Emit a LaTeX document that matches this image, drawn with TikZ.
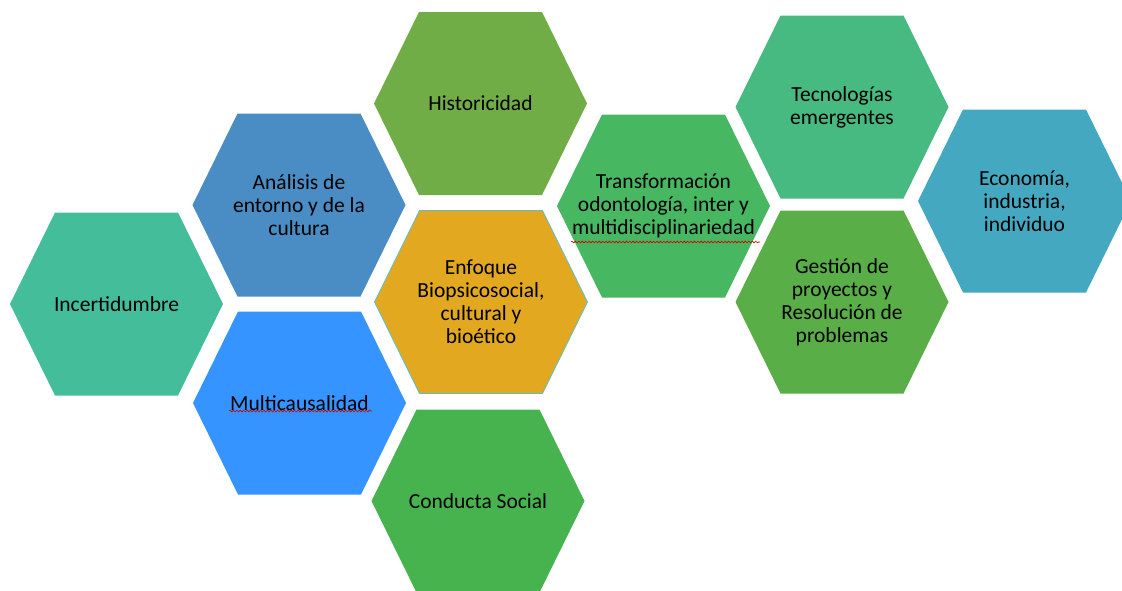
\documentclass[tikz,border=0pt]{standalone}
\usepackage{fontspec}
\setmainfont{Carlito}
\usetikzlibrary{decorations.pathmorphing}

\definecolor{incert}{RGB}{68,189,155}
\definecolor{analisis}{RGB}{73,141,196}
\definecolor{multic}{RGB}{53,148,255}
\definecolor{histor}{RGB}{112,173,71}
\definecolor{enfoque}{RGB}{226,168,32}
\definecolor{enfborder}{RGB}{91,192,205}
\definecolor{conducta}{RGB}{71,179,79}
\definecolor{transf}{RGB}{72,183,98}
\definecolor{tecno}{RGB}{70,186,128}
\definecolor{gestion}{RGB}{90,174,72}
\definecolor{econo}{RGB}{69,168,193}

% one cell of the honeycomb: name, x, y, fill options, text
\newcommand{\hexcell}[5]{%
	\path[#4] (#2,#3) ++(-106.5,0) -- ++(45,-91.5) -- ++(123,0) -- ++(45,91.5) -- ++(-45,91.5) -- ++(-123,0) -- cycle;
	\node[hexlabel] (#1) at (#2,#3) {#5};
}

\begin{document}
\begin{tikzpicture}[x=1pt, y=-1pt,
	hexlabel/.style={align=center, inner sep=0pt, text=black, font=\fontsize{21.5}{23}\selectfont},
	squiggle/.style={red!80!black, line width=0.6pt, decorate, decoration={snake, amplitude=0.9pt, segment length=3.4pt}}]
	\useasboundingbox (0,0) rectangle (1122,590);
	\hexcell{inc}{116.5}{304}{fill=incert}{Incertidumbre}
	\hexcell{ana}{299}{205}{fill=analisis}{Análisis de\\entorno y de la\\cultura}
	\hexcell{mul}{299.5}{403}{fill=multic}{Multicausalidad}
	\hexcell{his}{480.5}{103.5}{fill=histor}{Historicidad}
	\hexcell{enf}{481}{302}{fill=enfoque, draw=enfborder, line width=0.8pt}{Enfoque\\Biopsicosocial,\\cultural y\\bioético}
	\hexcell{con}{478}{501}{fill=conducta}{Conducta Social}
	\hexcell{tra}{663.5}{206}{fill=transf}{Transformación\\odontología, inter y\\multidisciplinariedad}
	\hexcell{tec}{842}{107}{fill=tecno}{Tecnologías\\emergentes}
	\hexcell{ges}{842}{302}{fill=gestion}{Gestión de\\proyectos y\\Resolución de\\problemas}
	\hexcell{eco}{1024.5}{201}{fill=econo}{Economía,\\industria,\\individuo}
	% spell-check marks
	\coordinate (mulsa) at (229,411);
	\coordinate (mulsb) at (372,411);
	\coordinate (trasa) at (571,242);
	\coordinate (trasb) at (760,242);
	\draw[squiggle] (mulsa) -- (mulsb);
	\draw[squiggle] (trasa) -- (trasb);
\end{tikzpicture}
\end{document}
